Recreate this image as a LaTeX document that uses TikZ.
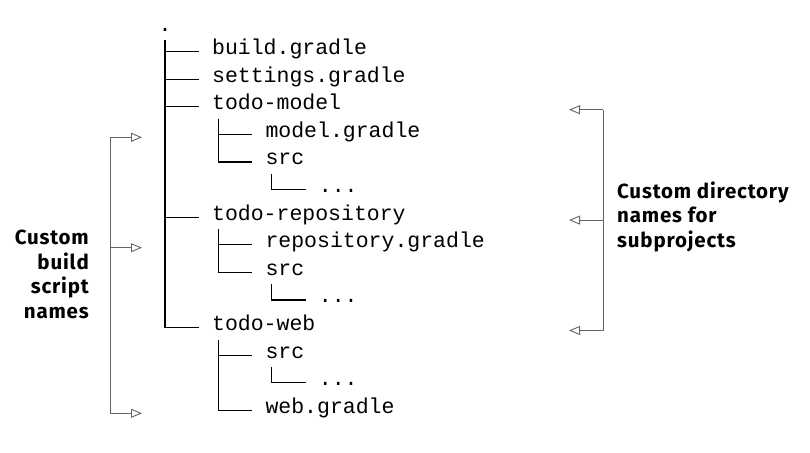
\documentclass[tikz,border=0pt]{standalone}
\usepackage{fontspec}
\usepackage{tikz}
\usetikzlibrary{arrows.meta}
\newfontfamily\treefont{Liberation Mono}
\newfontfamily\notefont{Fira Sans}[LetterSpace=4]
\definecolor{bracketgray}{RGB}{100,100,100}

\begin{document}
\begin{tikzpicture}[x=1pt,y=-1pt,
    entry/.style={anchor=base west,inner sep=0pt,font=\treefont\fontsize{21.5}{24}\selectfont},
    branch/.style={line width=1.2pt},
    bracket/.style={draw=bracketgray,line width=0.9pt},
    pointer/.style={bracket,-{Triangle[open,length=11pt,width=9pt]}},
    note/.style={inner sep=0pt,font=\notefont\bfseries\fontsize{20.5}{24.5}\selectfont}]
    \useasboundingbox (0,0) rectangle (810,452);
    \node[entry] (root) at (158.5,31.5) {.};
    \node[entry] (bg) at (211.9,54.5) {build.gradle};
    \node[entry] (sg) at (211.9,82.1) {settings.gradle};
    \node[entry] (tm) at (211.9,109.7) {todo-model};
    \node[entry] (mg) at (265.3,137.3) {model.gradle};
    \node[entry] (ms) at (265.3,164.9) {src};
    \node[entry] (md) at (318.7,192.5) {...};
    \node[entry] (tr) at (211.9,220.1) {todo-repository};
    \node[entry] (rg) at (265.3,247.7) {repository.gradle};
    \node[entry] (rs) at (265.3,275.3) {src};
    \node[entry] (rd) at (318.7,302.9) {...};
    \node[entry] (tw) at (211.9,330.5) {todo-web};
    \node[entry] (ws) at (265.3,358.1) {src};
    \node[entry] (wd) at (318.7,385.7) {...};
    \node[entry] (wg) at (265.3,413.3) {web.gradle};
    \draw[branch] ([xshift=6.5pt,yshift=-9pt]root.base west) |- ([xshift=-13pt,yshift=3pt]bg.base west);
    \draw[branch] ([xshift=6.5pt,yshift=-9pt]root.base west) |- ([xshift=-13pt,yshift=3pt]sg.base west);
    \draw[branch] ([xshift=6.5pt,yshift=-9pt]root.base west) |- ([xshift=-13pt,yshift=3pt]tm.base west);
    \draw[branch] ([xshift=6.5pt,yshift=-9pt]root.base west) |- ([xshift=-13pt,yshift=3pt]tr.base west);
    \draw[branch] ([xshift=6.5pt,yshift=-9pt]root.base west) |- ([xshift=-13pt,yshift=3pt]tw.base west);
    \draw[branch] ([xshift=6.5pt,yshift=-9pt]tm.base west) |- ([xshift=-13pt,yshift=3pt]mg.base west);
    \draw[branch] ([xshift=6.5pt,yshift=-9pt]tm.base west) |- ([xshift=-13pt,yshift=3pt]ms.base west);
    \draw[branch] ([xshift=6.5pt,yshift=-9pt]ms.base west) |- ([xshift=-13pt,yshift=3pt]md.base west);
    \draw[branch] ([xshift=6.5pt,yshift=-9pt]tr.base west) |- ([xshift=-13pt,yshift=3pt]rg.base west);
    \draw[branch] ([xshift=6.5pt,yshift=-9pt]tr.base west) |- ([xshift=-13pt,yshift=3pt]rs.base west);
    \draw[branch] ([xshift=6.5pt,yshift=-9pt]rs.base west) |- ([xshift=-13pt,yshift=3pt]rd.base west);
    \draw[branch] ([xshift=6.5pt,yshift=-9pt]tw.base west) |- ([xshift=-13pt,yshift=3pt]ws.base west);
    \draw[branch] ([xshift=6.5pt,yshift=-9pt]ws.base west) |- ([xshift=-13pt,yshift=3pt]wd.base west);
    \draw[branch] ([xshift=6.5pt,yshift=-9pt]tw.base west) |- ([xshift=-13pt,yshift=3pt]wg.base west);
    \coordinate (lbar) at (110,0);
    \coordinate (ltip) at (142,0);
    \coordinate (rbar) at (603,0);
    \coordinate (rtip) at (569,0);
    \draw[bracket] (lbar |- mg.base) -- (lbar |- wg.base);
    \draw[pointer] (lbar |- mg.base) -- (ltip |- mg.base);
    \draw[pointer] (lbar |- rg.base) -- (ltip |- rg.base);
    \draw[pointer] (lbar |- wg.base) -- (ltip |- wg.base);
    \draw[bracket] (rbar |- tm.base) -- (rbar |- tw.base);
    \draw[pointer] (rbar |- tm.base) -- (rtip |- tm.base);
    \draw[pointer] (rbar |- tr.base) -- (rtip |- tr.base);
    \draw[pointer] (rbar |- tw.base) -- (rtip |- tw.base);
    \node[note,align=right,anchor=base east] (buildnote) at (89,318.3) {Custom\\build\\script\\names};
    \node[note,align=left,anchor=base west] (dirnote) at (617,247.3) {Custom directory\\names for\\subprojects};
\end{tikzpicture}
\end{document}
